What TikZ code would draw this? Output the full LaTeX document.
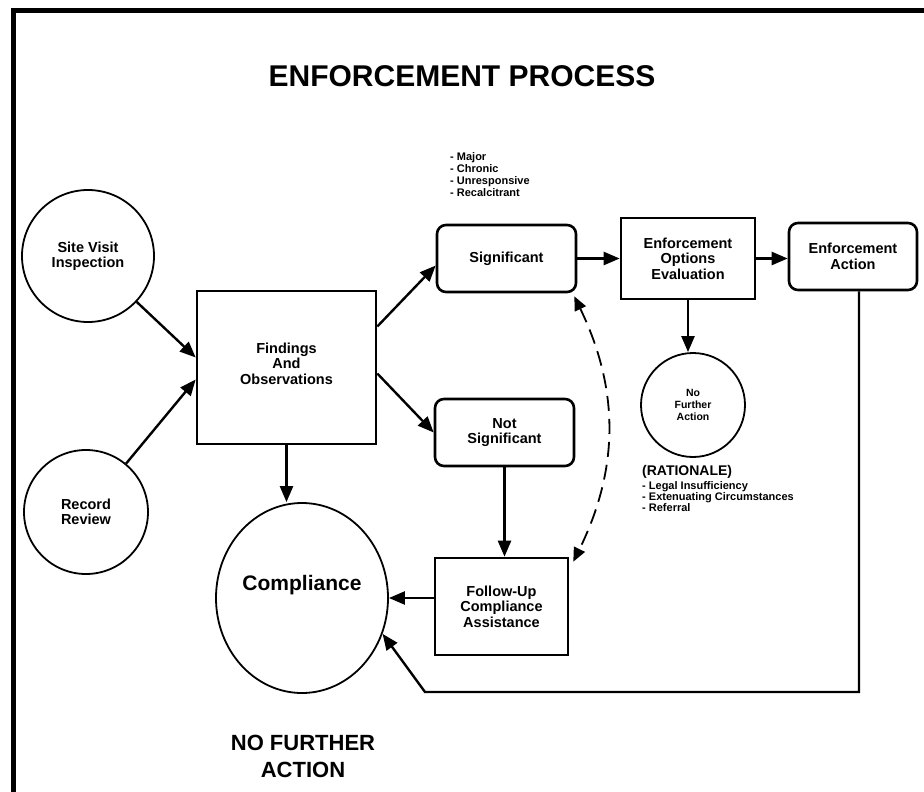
\documentclass[tikz,border=0pt]{standalone}
\usepackage{fontspec}
\setmainfont{Liberation Sans}
\usetikzlibrary{arrows.meta,shapes.geometric}

\tikzset{
  box/.style={draw, line width=2.6pt, align=center, inner sep=0pt,
    font=\bfseries\fontsize{14.5}{15.5}\selectfont},
  rbox/.style={box, rounded corners=9pt},
  disc/.style={box, circle, line width=1.8pt},
  arr/.style={line width=2.4pt, -{Triangle[length=16pt,width=13pt]}},
  note/.style={inner sep=0pt, align=left, font=\bfseries\fontsize{11}{12}\selectfont},
}

\begin{document}
\begin{tikzpicture}[x=1pt, y=-1pt]
\useasboundingbox (0,0) rectangle (924,792);

% frame
\draw[line width=5pt] (13.5,792) -- (13.5,10.5) -- (924,10.5);

\node[font=\bfseries\fontsize{30}{32}\selectfont] (title) at (462,76) {ENFORCEMENT PROCESS};

% where findings come from
\node[disc, minimum size=132pt] (site) at (88,256) {Site Visit\\Inspection};
\node[disc, minimum size=124pt] (record) at (86,512) {Record\\Review};

\node[box, minimum width=179pt, minimum height=153pt, text depth=8pt] (findings) at (286.5,367.5) {Findings\\And\\Observations};

\node[rbox, minimum width=139pt, minimum height=67pt] (sig) at (506.5,258.5) {Significant};
\node[rbox, minimum width=139pt, minimum height=67pt] (notsig) at (504.5,432.5) {Not\\Significant};
\node[box, minimum width=133pt, minimum height=97pt] (follow) at (501.5,606.5) {Follow-Up\\Compliance\\Assistance};

\node[draw, ellipse, line width=1.8pt, inner sep=0pt, minimum width=172pt, minimum height=190pt,
  text depth=30pt, font=\bfseries\fontsize{21}{24}\selectfont] (compl) at (302,598) {Compliance};

\node[box, minimum width=134pt, minimum height=81pt] (eoe) at (688,258.5) {Enforcement\\Options\\Evaluation};
\node[rbox, minimum width=128pt, minimum height=67pt] (ea) at (853,256.5) {Enforcement\\Action};
\node[disc, minimum size=104pt, font=\bfseries\fontsize{10.5}{12}\selectfont] (nfa) at (693,405) {No\\Further\\Action};

% side notes
\node[note, anchor=west] (kinds) at (450,175) {- Major\\- Chronic\\- Unresponsive\\- Recalcitrant};
\node[note, anchor=west, font=\bfseries\fontsize{14}{16}\selectfont] (why) at (642,472) {(RATIONALE)};
\node[note, anchor=north west, font=\bfseries\fontsize{11}{11}\selectfont] (reasons) at (642,481)
  {- Legal Insufficiency\\- Extenuating Circumstances\\- Referral};
\node[align=center, font=\bfseries\fontsize{22}{27}\selectfont] (nomore) at (303,756) {NO FURTHER\\ACTION};

% arrows
\draw[arr] (site) -- ([yshift=10pt]findings.west);
\draw[arr] (record) -- ([yshift=-12pt]findings.west);
\draw[arr] ([yshift=41pt]findings.east) -- ([yshift=-7pt]sig.west);
\draw[arr] ([yshift=-6pt]findings.east) -- (notsig.west);
\draw[arr] (findings.south) -- (findings.south |- compl.north);
\draw[arr] (sig.east) -- (eoe.west);
\draw[arr] (eoe.east) -- (eoe.east -| ea.west);
\draw[arr] (eoe.south) -- (eoe.south |- nfa.north);
\draw[arr] (notsig.south) -- (notsig.south |- follow.north);
\draw[arr] (follow.west |- compl.east) -- (compl.east);

\coordinate (turn) at (425,692);
\draw[arr] ([xshift=6pt]ea.south) |- (turn) -- (compl.-24);

\draw[line width=1.8pt, dash pattern=on 15pt off 8pt,
  {Triangle[length=14pt,width=12pt]}-{Triangle[length=14pt,width=12pt]}]
  ([shift={(-3pt,-3pt)}]sig.south east) to[bend left=26] ([shift={(4pt,-5pt)}]follow.north east);

\end{tikzpicture}
\end{document}
